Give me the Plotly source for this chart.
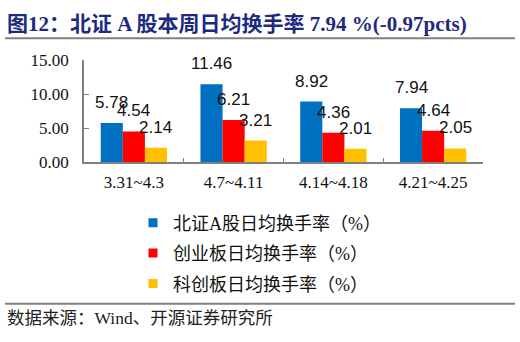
import plotly.graph_objects as go

categories = ["3.31~4.3", "4.7~4.11", "4.14~4.18", "4.21~4.25"]
bse_a = [5.78, 11.46, 8.92, 7.94]
chinext = [4.54, 6.21, 4.36, 4.64]
star = [2.14, 3.21, 2.01, 2.05]
series_names = ["北证A股日均换手率（%）", "创业板日均换手率（%）", "科创板日均换手率（%）"]
colors = ["#0070C0", "#FF0000", "#FFC000"]
y_ticks = [0, 5, 10, 15]

W, H = 520, 342
SERIF = "Liberation Serif, Noto Sans CJK SC"

fig = go.Figure()
all_series = [bse_a, chinext, star]
for i, (name, vals, c) in enumerate(zip(series_names, all_series, colors)):
    fig.add_trace(go.Bar(x=categories, y=vals, name=name, marker=dict(color=c, line=dict(width=0)),
                         showlegend=False))
    # legend entry with a small square swatch
    fig.add_trace(go.Scatter(x=[None], y=[None], mode="markers", name=name, legendgroup=f"g{i}",
                             marker=dict(symbol="square", size=9, color=c), showlegend=True))

annotations = []
shifts = [-22, 0, 22]
for vals, sh in zip(all_series, shifts):
    for cat, v in zip(categories, vals):
        annotations.append(dict(x=cat, y=v, xref="x", yref="y", text=f"{v:.2f}", showarrow=False,
                                xshift=sh, yshift=9, yanchor="bottom",
                                font=dict(family="Liberation Sans, Arial", size=17, color="#111")))

annotations.append(dict(x=5 / W, y=1 - 16 / H, xref="paper", yref="paper", xanchor="left", yanchor="middle",
                        text="<b>图12：北证 A 股本周日均换手率 7.94 %(-0.97pcts)</b>", showarrow=False,
                        font=dict(family=SERIF, size=21, color="#1C2A80")))
annotations.append(dict(x=5 / W, y=1 - 327 / H, xref="paper", yref="paper", xanchor="left", yanchor="middle",
                        text="数据来源：Wind、开源证券研究所", showarrow=False,
                        font=dict(family=SERIF, size=17.5, color="#222")))

shapes = [
    dict(type="line", xref="paper", yref="paper", x0=5 / W, x1=515 / W, y0=1 - 31 / H, y1=1 - 31 / H,
         line=dict(color="#808080", width=2)),
    dict(type="line", xref="paper", yref="paper", x0=5 / W, x1=515 / W, y0=1 - 312 / H, y1=1 - 312 / H,
         line=dict(color="#808080", width=2)),
]

fig.update_layout(
    width=W, height=H, margin=dict(l=0, r=0, t=0, b=0),
    paper_bgcolor="white", plot_bgcolor="white",
    barmode="group", bargap=0.335, bargroupgap=0,
    annotations=annotations, shapes=shapes,
    showlegend=True,
    legend=dict(x=133 / W, y=1 - 207 / H, xanchor="left", yanchor="top", orientation="v",
                font=dict(family=SERIF, size=18, color="#111"), bgcolor="rgba(0,0,0,0)",
                tracegroupgap=4, traceorder="grouped"),
    xaxis=dict(domain=[84 / W, 483 / W], showline=True, linecolor="#808080", linewidth=1.5,
               ticks="inside", ticklen=5, tickcolor="#808080", tickson="boundaries",
               ticklabelstandoff=3,
               tickfont=dict(family=SERIF, size=17, color="#111"), showgrid=False),
    yaxis=dict(domain=[1 - 162.5 / H, 1 - 54 / H], range=[0, 15], tickvals=y_ticks,
               ticktext=[f"{t:.2f}" for t in y_ticks], showline=True, linecolor="#808080", linewidth=1.5,
               ticks="inside", ticklen=5, tickcolor="#808080", showgrid=False, zeroline=False,
               ticklabelstandoff=10, tickfont=dict(family=SERIF, size=17, color="#111")),
)

fig.write_html("out.html")
